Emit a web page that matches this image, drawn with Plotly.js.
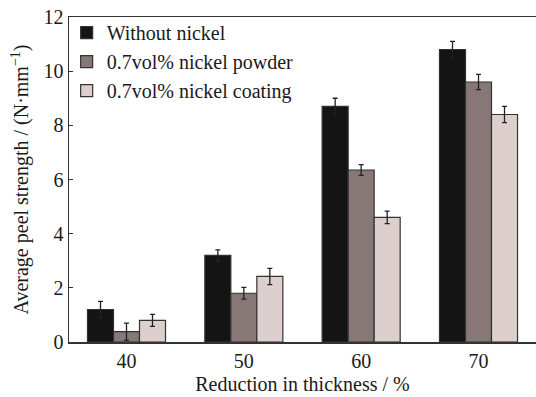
<!DOCTYPE html>
<html>
<head>
<meta charset="utf-8">
<script src="https://cdn.plot.ly/plotly-3.0.1.min.js"></script>
<style>html,body{margin:0;padding:0;background:#fff;}#chart{width:536px;height:397px;}</style>
</head>
<body>
<div id="chart"></div>
<script>
var categories = ['40', '50', '60', '70'];
var seriesNames = ['Without nickel', '0.7vol% nickel powder', '0.7vol% nickel coating'];
var withoutNickel = [1.2, 3.2, 8.7, 10.8];
var withoutNickelErr = [0.3, 0.2, 0.3, 0.3];
var nickelPowder = [0.38, 1.8, 6.35, 9.6];
var nickelPowderErr = [0.32, 0.22, 0.2, 0.28];
var nickelCoating = [0.8, 2.42, 4.6, 8.4];
var nickelCoatingErr = [0.22, 0.3, 0.23, 0.3];
var colors = ['#141414', '#877877', '#dccfcd'];

var values = [withoutNickel, nickelPowder, nickelCoating];
var errs = [withoutNickelErr, nickelPowderErr, nickelCoatingErr];

var traces = values.map(function (v, i) {
  return {
    type: 'bar',
    name: seriesNames[i],
    x: categories,
    y: v,
    marker: { color: colors[i], line: { color: '#333333', width: 1.2 } },
    error_y: { type: 'data', array: errs[i], visible: true, color: '#222222', thickness: 1.3, width: 2.5 }
  };
});

var fam = 'Liberation Serif';
var txt = '#1a1a1a';

var layout = {
  width: 536,
  height: 397,
  margin: { l: 69, r: 0, t: 17, b: 55 },
  paper_bgcolor: '#ffffff',
  plot_bgcolor: '#ffffff',
  font: { family: fam, size: 20, color: txt },
  barmode: 'group',
  bargap: 0.335,
  bargroupgap: 0,
  showlegend: true,
  legend: {
    x: -0.005, y: 1.012, xanchor: 'left', yanchor: 'top',
    bgcolor: 'rgba(0,0,0,0)',
    font: { family: fam, size: 20, color: txt },
    tracegroupgap: 0,
    itemwidth: 30
  },
  xaxis: {
    type: 'category',
    range: [-0.49, 3.49],
    showline: true, linecolor: '#333333', linewidth: 1.5,
    ticks: '', showgrid: false, zeroline: false,
    tickfont: { family: fam, size: 20, color: txt },
    title: { text: 'Reduction in thickness / %', font: { family: fam, size: 20, color: txt }, standoff: 6 },
    mirror: true
  },
  yaxis: {
    range: [0, 12],
    dtick: 2,
    showline: true, linecolor: '#333333', linewidth: 1.5,
    ticks: 'inside', ticklen: 4, tickcolor: '#333333',
    showgrid: false, zeroline: false,
    tickfont: { family: fam, size: 20, color: txt },
    title: { text: 'Average peel strength / (N·mm<sup>−1</sup>)', font: { family: fam, size: 20, color: txt }, standoff: 9 }
  }
};

Plotly.newPlot('chart', traces, layout, { displayModeBar: false, staticPlot: true });
</script>
</body>
</html>
